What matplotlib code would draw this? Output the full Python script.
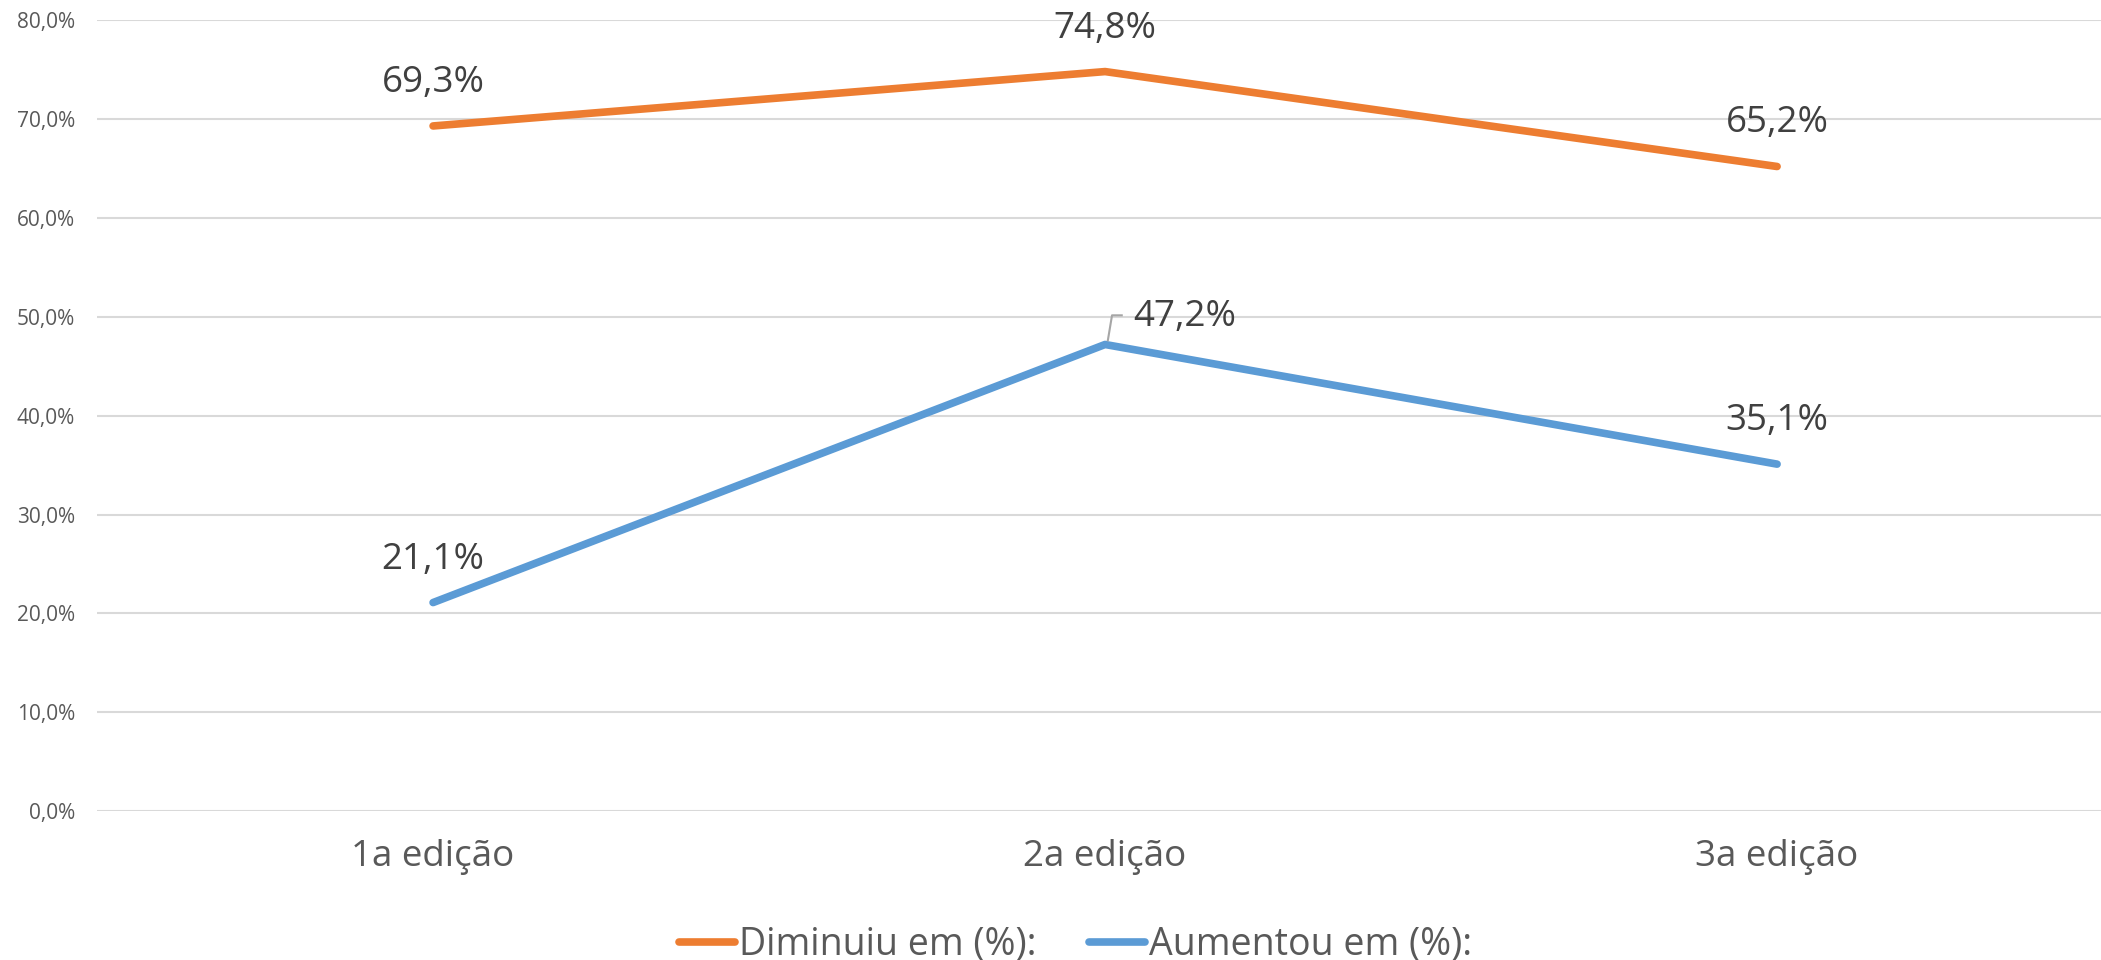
import matplotlib
matplotlib.use("Agg")
import matplotlib.pyplot as plt
import matplotlib.transforms as mtransforms

plt.rcParams["font.family"] = ["Open Sans", "DejaVu Sans"]

# Data
EDICOES = ["1a edição", "2a edição", "3a edição"]
DIMINUIU = [69.3, 74.8, 65.2]
AUMENTOU = [21.1, 47.2, 35.1]
Y_TICKS = [0, 10, 20, 30, 40, 50, 60, 70, 80]

C_ORANGE = "#ED7D31"
C_BLUE = "#5B9BD5"
C_GRID = "#D9D9D9"
C_TICK = "#595959"
C_LABEL = "#404040"


def fmt_pct(v):
    return f"{v:.1f}".replace(".", ",") + "%"


fig = plt.figure(figsize=(21.01, 9.6), dpi=100)
ax = fig.add_axes([0.0462, 0.155, 0.9538, 0.824])

x = list(range(len(EDICOES)))
ax.plot(x, DIMINUIU, color=C_ORANGE, lw=5.5, solid_capstyle="round", zorder=3,
        label="Diminuiu em (%):")
ax.plot(x, AUMENTOU, color=C_BLUE, lw=5.5, solid_capstyle="round", zorder=3,
        label="Aumentou em (%):")

ax.set_xlim(-0.5, 2.482)
ax.set_ylim(0, 80)

# data labels above points
for xi, v in zip(x, DIMINUIU):
    ax.annotate(fmt_pct(v), (xi, v), xytext=(0, 31), textcoords="offset points",
                ha="center", va="center", fontsize=26.5, color=C_LABEL)
for xi, v in zip(x, AUMENTOU):
    if xi == 1:
        continue
    ax.annotate(fmt_pct(v), (xi, v), xytext=(0, 31), textcoords="offset points",
                ha="center", va="center", fontsize=26.5, color=C_LABEL)

# 47,2% label sits to the right with a small leader line
ax.annotate(fmt_pct(AUMENTOU[1]), (1, AUMENTOU[1]), xytext=(20, 19.5),
            textcoords="offset points", ha="left", va="center",
            fontsize=26.5, color=C_LABEL)
lead = [mtransforms.offset_copy(ax.transData, fig=fig, x=dx, y=dy, units="points")
        for dx, dy in [(2, 3), (5, 21), (12, 21)]]
pts = [t.transform((1, AUMENTOU[1])) for t in lead]
fig.add_artist(plt.Line2D([p[0] for p in pts], [p[1] for p in pts],
                          transform=mtransforms.IdentityTransform(),
                          color="#A6A6A6", lw=1.5, zorder=4))

ax.set_yticks(Y_TICKS)
ax.set_yticklabels([fmt_pct(t) for t in Y_TICKS], fontsize=15, color=C_TICK)
ax.set_xticks(x)
ax.set_xticklabels(EDICOES, fontsize=26.5, color=C_TICK)
ax.tick_params(axis="both", length=0)
ax.tick_params(axis="y", pad=16)
ax.tick_params(axis="x", pad=20)
ax.grid(axis="y", color=C_GRID, lw=1.5, zorder=0)
ax.set_axisbelow(True)
for s in ax.spines.values():
    s.set_visible(False)

fig.legend(loc="center", bbox_to_anchor=(0.512, 0.016), ncol=2, frameon=False,
           fontsize=27, labelcolor=C_TICK, handlelength=1.5, handletextpad=0.1,
           columnspacing=1.4)

fig.savefig("out.png", dpi=100)
